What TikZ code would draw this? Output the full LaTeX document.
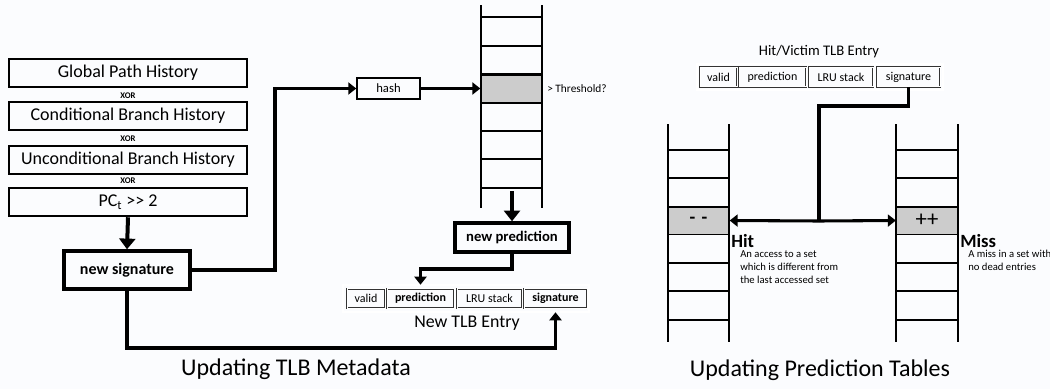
\documentclass[tikz,border=0pt]{standalone}
\usepackage{fontspec}
\setmainfont{Carlito}
\usetikzlibrary{arrows.meta}
\tikzset{
  fs/.style={font=\fontsize{#1}{#1}\selectfont},
  hist/.style={draw, line width=1.9pt, minimum width=178.5pt, minimum height=21pt, inner sep=0pt, fs=13.5},
  xorlbl/.style={inner sep=0pt, font=\bfseries\fontsize{6.5}{7}\selectfont},
  boldbox/.style={draw, line width=2.6pt, inner sep=0pt, font=\bfseries\fontsize{#1}{#1}\selectfont},
  thinbox/.style={draw, line width=1.1pt, inner sep=0pt, fs=9.5},
  conn/.style={line width=2.3pt},
  tip/.style={-{Triangle[width=9pt,length=6pt]}},
  bigtip/.style={line width=3pt, -{Triangle[width=12pt,length=8pt]}},
  entry/.style={draw=black!80, double=white, double distance=0.8pt, line width=0.4pt, inner sep=0pt},
  field/.style={draw=black!80, double=white, double distance=0.7pt, line width=0.35pt, inner sep=0pt, minimum height=14.5pt, fs=9},
  rail/.style={line width=1.6pt},
  rowline/.style={line width=1pt},
  cell/.style={draw, line width=1pt, fill=gray!40, inner sep=0pt, minimum width=45.75pt, minimum height=20.5pt},
  note/.style={inner sep=0pt, align=left, font=\fontsize{8}{9.75}\selectfont},
}
\begin{document}
\begin{tikzpicture}[x=0.75pt, y=-0.75pt]
\useasboundingbox[fill={rgb,255:red,251;green,252;blue,254}] (0,0) rectangle (1050,389);

% ---- history sources XORed together ----
\node[hist] (gph) at (128,73) {Global Path History};
\node[xorlbl] (x1) at (128,96) {XOR};
\node[hist] (cbh) at (128,116) {Conditional Branch History};
\node[xorlbl] (x2) at (128,139) {XOR};
\node[hist] (ubh) at (128,160) {Unconditional Branch History};
\node[xorlbl] (x3) at (128,181) {XOR};
\node[hist] (pc) at (128,202) {PC\textsubscript{t} >{}> 2};

\node[boldbox=12, minimum width=94.5pt, minimum height=28.5pt] (sig) at (127,270) {new signature};
\draw[bigtip] (pc.south) -- (sig.north);

% ---- hash into the prediction table ----
\node[thinbox, minimum width=47.25pt, minimum height=15.75pt] (hash) at (388.5,88.5) {hash};
\coordinate (up) at (275,88.5);
\draw[conn, tip] (sig.east) -| (up) -- (hash.west);

% prediction table
\foreach \y in {17,46,74,103,131,159,188} \draw[rowline] (481,\y) -- (542,\y);
\node[cell] (thr) at (511.5,88.5) {};
\draw[rail] (481,5) -- (481,208) (542,5) -- (542,208);
\draw[conn, tip] (hash.east) -- (thr.west);
\node[anchor=west, inner sep=0pt, fs=8.5] (thrtxt) at (547,88.5) {> Threshold?};

\coordinate (tblout) at (512,191);
\node[boldbox=11, minimum width=85.5pt, minimum height=21.75pt] (npred) at (512,237.5) {new prediction};
\draw[bigtip] (tblout) -- (npred.north);

% new TLB entry
\node[entry, minimum width=184.5pt, minimum height=20.25pt] (ne) at (466,298.5) {};
\node[field, minimum width=28.5pt] (nvalid) at (366,298.5) {valid};
\node[field, minimum width=50.25pt, font=\bfseries\fontsize{9}{9}\selectfont] (npre) at (420.5,298.5) {prediction};
\node[field, minimum width=48.75pt] (nlru) at (489.5,298.5) {LRU stack};
\node[field, minimum width=47.25pt, font=\bfseries\fontsize{9}{9}\selectfont] (nsig) at (555.5,298.5) {signature};
\node[inner sep=0pt, fs=13.4] (netxt) at (467,323) {New TLB Entry};

\coordinate (pbend) at (420.5,269);
\draw[conn, tip] (npred.south) |- (pbend) -- (ne.north -| npre);
\coordinate (sbend) at (555.5,348);
\draw[conn, tip] (sig.south) |- (sbend) -- (ne.south -| nsig);

\node[inner sep=0pt, fs=18] (t1) at (296,369) {Updating TLB Metadata};

% ---- hit/victim entry and the two counter tables ----
\node[inner sep=0pt, fs=11] (hvtxt) at (819,52) {Hit/Victim TLB Entry};
\node[entry, minimum width=184.5pt, minimum height=19.5pt] (he) at (820,77) {};
\node[field, minimum width=27.75pt] (hvalid) at (718.5,77) {valid};
\node[field, minimum width=50.25pt] (hpre) at (772.5,77) {prediction};
\node[field, minimum width=48pt] (hlru) at (841,77) {LRU stack};
\node[field, minimum width=47.25pt] (hsig) at (908.5,77) {signature};

% left table (hit)
\foreach \y in {150,178,207,234,263,291,320} \draw[rowline] (668,\y) -- (729,\y);
\node[cell, font=\bfseries\fontsize{14}{14}\selectfont] (lcell) at (698.5,220.5) {-\,\,-};
\draw[rail] (668,124) -- (668,342) (729,124) -- (729,342);

% right table (miss)
\foreach \y in {150,178,207,234,263,291,320} \draw[rowline] (896,\y) -- (958,\y);
\node[cell, fs=17] (rcell) at (927,220.5) {++};
\draw[rail] (896,124) -- (896,342) (958,124) -- (958,342);

\coordinate (hb1) at (819,106);
\coordinate (hb2) at (819,221);
\draw[conn] (hsig.south) |- (hb1) -- (hb2);
\draw[conn, tip] (hb2) -- (lcell.east);
\draw[conn, tip] (hb2) -- (rcell.west);

\node[anchor=base west, inner sep=0pt, font=\bfseries\fontsize{14}{14}\selectfont] (hit) at (731,247) {Hit};
\node[note, anchor=north west] (hitnote) at (740,250) {An access to a set\\which is different from\\the last accessed set};
\node[anchor=base west, inner sep=0pt, font=\bfseries\fontsize{14}{14}\selectfont] (miss) at (960,247) {Miss};
\node[note, anchor=north west] (missnote) at (968,250) {A miss in a set with\\no dead entries};

\node[inner sep=0pt, fs=18] (t2) at (820,370) {Updating Prediction Tables};
\end{tikzpicture}
\end{document}
